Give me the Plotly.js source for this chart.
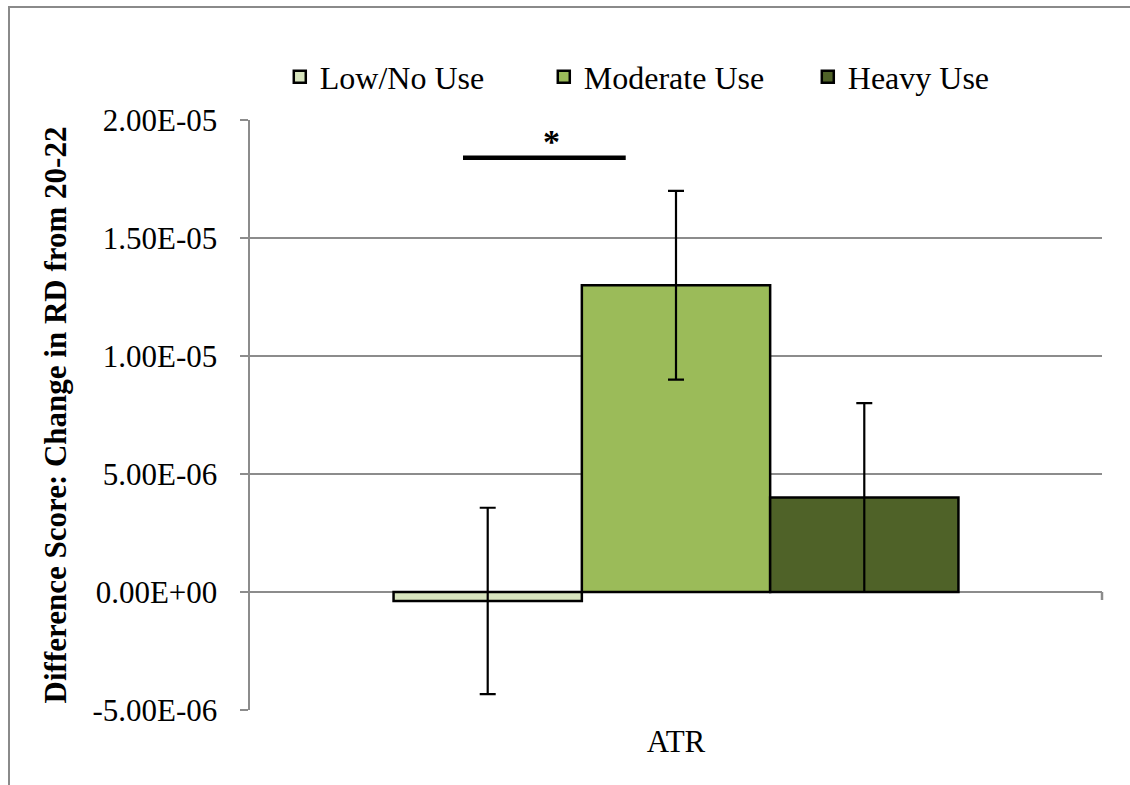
<!DOCTYPE html>
<html>
<head>
<meta charset="utf-8">
<script src="https://cdn.plot.ly/plotly-3.0.1.min.js"></script>
<style>
  html, body { margin: 0; padding: 0; background: #fff; }
  #wrap { position: relative; width: 1130px; height: 785px; overflow: hidden; }
  #frame { position: absolute; left: 8px; top: 6px; width: 1200px; height: 900px;
           border-left: 2.5px solid #8a8a8a; border-top: 2.5px solid #8a8a8a; pointer-events: none; z-index: 5; }
  #chart { position: absolute; left: 0; top: 0; width: 1130px; height: 785px; }
</style>
</head>
<body>
<div id="wrap">
  <div id="chart"></div>
  <div id="frame"></div>
</div>
<script>
const categories = ["ATR"];
const seriesNames = ["Low/No Use", "Moderate Use", "Heavy Use"];
const lowValues = [-0.38e-6];
const moderateValues = [13.0e-6];
const heavyValues = [4.0e-6];
const lowErrors = [3.95e-6];
const moderateErrors = [4.0e-6];
const heavyErrors = [4.0e-6];
const seriesColors = ["#d7e4bd", "#9bbb59", "#4f6228"];
const yTickVals = [-5e-6, 0, 5e-6, 1e-5, 1.5e-5, 2e-5];
const yTickText = ["-5.00E-06", "0.00E+00", "5.00E-06", "1.00E-05", "1.50E-05", "2.00E-05"];
const significanceLabel = "*";

const FONT = "Liberation Serif";
const GRID = "#8c8c8c";

const values = [lowValues, moderateValues, heavyValues];
const errors = [lowErrors, moderateErrors, heavyErrors];

const traces = seriesNames.map((name, i) => ({
  type: "bar",
  name: name,
  x: categories,
  y: values[i],
  marker: { color: seriesColors[i], line: { color: "#000", width: 2.5 } },
  error_y: { type: "data", array: errors[i], visible: true, color: "#000", thickness: 2.2, width: 8 },
  hoverinfo: "skip"
}));

const layout = {
  width: 1130,
  height: 785,
  paper_bgcolor: "#fff",
  plot_bgcolor: "#fff",
  margin: { l: 250, r: 28, t: 120, b: 75 },
  barmode: "group",
  bargap: 0.337,
  bargroupgap: 0,
  font: { family: FONT, size: 31, color: "#000" },
  showlegend: true,
  legend: {
    orientation: "h",
    xref: "container", x: 0.2476, xanchor: "left",
    yref: "container", y: 0.902, yanchor: "middle",
    entrywidth: 219, entrywidthmode: "pixels",
    font: { family: FONT, size: 32, color: "#000" },
    traceorder: "normal",
    itemclick: false
  },
  xaxis: {
    type: "category",
    showgrid: false,
    showline: false,
    ticks: "",
    ticklabelstandoff: 10,
    tickfont: { family: FONT, size: 31, color: "#000" },
    fixedrange: true
  },
  yaxis: {
    range: [-5e-6, 2e-5],
    tickvals: yTickVals,
    ticktext: yTickText,
    showgrid: true,
    gridcolor: GRID,
    gridwidth: 2,
    zeroline: true,
    zerolinecolor: GRID,
    zerolinewidth: 2,
    showline: true,
    linecolor: GRID,
    linewidth: 2.5,
    ticks: "outside",
    ticklen: 8,
    tickwidth: 2.5,
    tickcolor: GRID,
    ticklabelstandoff: 16,
    tickfont: { family: FONT, size: 31, color: "#000" },
    title: {
      text: "Difference Score: Change in RD from 20-22",
      font: { family: FONT, size: 31, color: "#000", weight: "bold" },
      standoff: 17
    },
    automargin: false,
    fixedrange: true
  },
  shapes: [
    { type: "line", xref: "x", yref: "y", x0: -0.25, x1: -0.059, y0: 1.84e-5, y1: 1.84e-5,
      line: { color: "#000", width: 4.5 } },
    { type: "line", xref: "paper", yref: "y", x0: 1, x1: 1, ysizemode: "pixel", yanchor: 0, y0: 0, y1: -8,
      line: { color: GRID, width: 2.5 } }
  ],
  annotations: [
    { xref: "x", yref: "y", x: -0.146, y: 1.91e-5, text: significanceLabel, showarrow: false,
      font: { family: FONT, size: 34, color: "#000", weight: "bold" }, yanchor: "middle" }
  ]
};

Plotly.newPlot("chart", traces, layout, { displayModeBar: false, staticPlot: true });
</script>
</body>
</html>
